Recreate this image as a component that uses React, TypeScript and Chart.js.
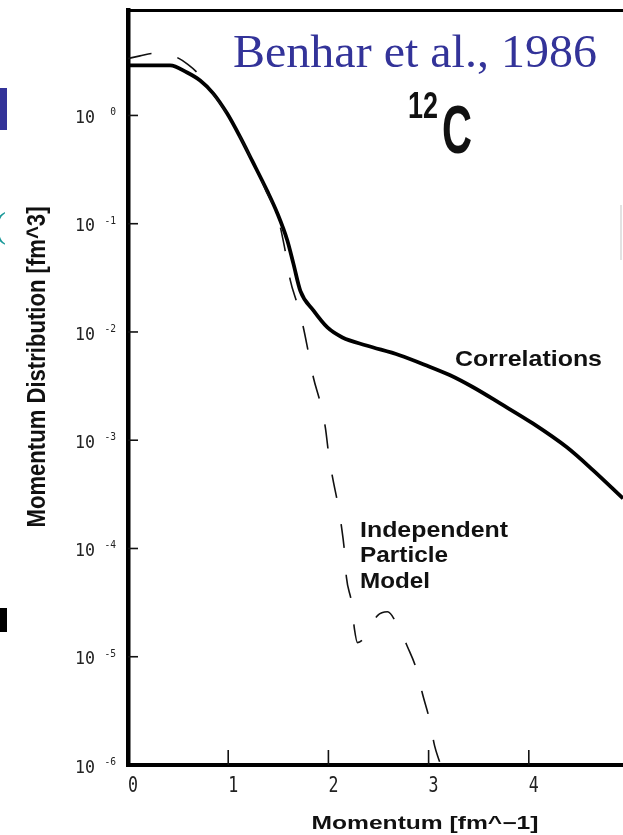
import React, { useEffect, useRef } from 'react';
import { Chart, registerables } from 'chart.js';

Chart.register(...registerables);

// ---- data ----
const corrMomentum = [0, 0.42, 0.59, 0.72, 0.85, 0.99, 1.12, 1.24, 1.39, 1.49, 1.59, 1.65, 1.72, 1.85, 1.99, 2.14, 2.38, 2.71, 2.98, 3.21, 3.44, 3.71, 4.04, 4.38, 4.64, 4.94];
const corrDistribution = [2.9, 2.9, 2.49, 2.1, 1.6, 1.04, 0.63, 0.38, 0.2, 0.125, 0.07, 0.043, 0.024, 0.0158, 0.011, 0.0089, 0.0075, 0.0061, 0.0049, 0.004, 0.0031, 0.0022, 0.00143, 0.00086, 0.00053, 0.00029];

const ipmMomentum = [0, 0.12, 0.24, 0.36, 0.49, 0.6, 0.69, 0.85, 0.99, 1.12, 1.24, 1.38, 1.5, 1.56, 1.62, 1.69, 1.75, 1.8, 1.85, 1.92, 1.97, 2.0, 2.04, 2.09, 2.13, 2.16, 2.18, 2.23, 2.26, 2.29, 2.36, 2.49, 2.59, 2.69, 2.79, 2.88, 2.94, 3.01, 3.06, 3.11];
const ipmDistribution = [3.36, 3.55, 3.73, 3.72, 3.43, 2.95, 2.49, 1.58, 1.03, 0.63, 0.38, 0.2, 0.11, 0.062, 0.03, 0.018, 0.011, 0.0065, 0.0038, 0.0022, 0.0013, 0.00078, 0.00046, 0.00027, 0.00016, 0.000095, 0.000054, 0.000032, 0.000018, 0.0000135, 0.000015, 0.000024, 0.000026, 0.0000195, 0.0000123, 0.0000076, 0.0000045, 0.0000026, 0.0000015, 0.00000107];

const xTickValues = [0, 1, 2, 3, 4];
const xTickLabels = ['0', '1', '2', '3', '4'];
const yTickValues = [1, 0.1, 0.01, 0.001, 0.0001, 0.00001, 0.000001];
const yTickExponents = ['0', '-1', '-2', '-3', '-4', '-5', '-6'];

const xMin = 0;
const xMax = 4.94;
const yMin = 0.000001;
const yMax = 9.42;

const W = 623;
const H = 835;

type FitOpts = {
  family: string;
  weight?: string;
  cap: number;
  capRatio: number;
  width?: number;
  align?: CanvasTextAlign;
  rotate?: boolean;
  color?: string;
};

function fitText(ctx: CanvasRenderingContext2D, text: string, x: number, y: number, o: FitOpts) {
  const size = o.cap / o.capRatio;
  ctx.save();
  ctx.font = `${o.weight || 'normal'} ${size}px ${o.family}`;
  const natural = ctx.measureText(text).width;
  const sx = o.width ? o.width / natural : 1;
  ctx.translate(x, y);
  if (o.rotate) ctx.rotate(-Math.PI / 2);
  ctx.scale(sx, 1);
  ctx.fillStyle = o.color || '#000';
  ctx.textAlign = o.align || 'left';
  ctx.textBaseline = 'alphabetic';
  ctx.fillText(text, 0, o.cap / 2);
  ctx.restore();
}

const SANS = '"Liberation Sans", Arial, sans-serif';
const MONO = '"DejaVu Sans Mono", monospace';
const SERIF = '"Liberation Serif", "Times New Roman", serif';

const overlayPlugin = {
  id: 'overlay',
  afterDraw(chart: any) {
    const { ctx, chartArea, scales } = chart;
    const xs = scales.x;
    const ys = scales.y;
    const left = chartArea.left;
    const bottom = chartArea.bottom;
    ctx.save();

    // inward tick marks
    ctx.strokeStyle = '#111';
    ctx.lineWidth = 1.6;
    xTickValues.forEach((v) => {
      if (v === xMin) return;
      const px = xs.getPixelForValue(v);
      ctx.beginPath();
      ctx.moveTo(px, bottom);
      ctx.lineTo(px, bottom - 15);
      ctx.stroke();
    });
    yTickValues.forEach((v) => {
      if (v === yMin) return;
      const py = ys.getPixelForValue(v);
      ctx.beginPath();
      ctx.moveTo(left, py);
      ctx.lineTo(left + 10, py);
      ctx.stroke();
    });

    // x tick labels
    xTickValues.forEach((v, i) => {
      const px = xs.getPixelForValue(v);
      fitText(ctx, xTickLabels[i], px + 5, 784, { family: MONO, cap: 15, capRatio: 0.729, width: 10, align: 'center', color: '#222' });
    });
    // y tick labels 10^n
    yTickValues.forEach((v, i) => {
      const py = ys.getPixelForValue(v);
      fitText(ctx, '10', 75, py + 1.5, { family: MONO, cap: 12.5, capRatio: 0.729, width: 20, align: 'left', color: '#222' });
      fitText(ctx, yTickExponents[i], 116, py - 3.5, { family: MONO, cap: 7, capRatio: 0.729, align: 'right', color: '#222' });
    });

    // axis titles
    fitText(ctx, 'Momentum [fm^\u22121]', 425, 822, { family: SANS, weight: 'bold', cap: 13, capRatio: 0.729, width: 227, align: 'center', color: '#111' });
    fitText(ctx, 'Momentum Distribution [fm^3]', 35, 367, { family: SANS, weight: 'bold', cap: 19, capRatio: 0.729, width: 321, align: 'center', rotate: true, color: '#111' });

    // curve annotations
    fitText(ctx, 'Correlations', 455, 358, { family: SANS, weight: 'bold', cap: 16, capRatio: 0.729, width: 147, color: '#111' });
    fitText(ctx, 'Independent', 360, 528.5, { family: SANS, weight: 'bold', cap: 16, capRatio: 0.729, width: 148, color: '#111' });
    fitText(ctx, 'Particle', 360, 554, { family: SANS, weight: 'bold', cap: 16, capRatio: 0.729, width: 88, color: '#111' });
    fitText(ctx, 'Model', 360, 580, { family: SANS, weight: 'bold', cap: 16, capRatio: 0.729, width: 70, color: '#111' });

    // nucleus label
    fitText(ctx, '12', 408, 104, { family: SANS, weight: 'bold', cap: 27, capRatio: 0.729, width: 30, color: '#111' });
    fitText(ctx, 'C', 442, 127.5, { family: SANS, weight: 'bold', cap: 50, capRatio: 0.729, width: 30, color: '#111' });

    // reference title
    fitText(ctx, 'Benhar et al., 1986', 233, 51, { family: SERIF, cap: 31, capRatio: 0.662, width: 364, color: '#333399' });

    // slide remnants at the edges
    ctx.fillStyle = '#333399';
    ctx.fillRect(0, 88, 7, 42);
    ctx.fillStyle = '#000';
    ctx.fillRect(0, 608, 7, 24);
    fitText(ctx, '(', -6, 225, { family: SERIF, cap: 24, capRatio: 0.662, color: '#199999' });
    ctx.strokeStyle = '#e2e2e2';
    ctx.lineWidth = 2;
    ctx.beginPath();
    ctx.moveTo(621, 205);
    ctx.lineTo(621, 260);
    ctx.stroke();

    ctx.restore();
  },
};

export default function App() {
  const canvasRef = useRef<HTMLCanvasElement | null>(null);

  useEffect(() => {
    const canvas = canvasRef.current;
    if (!canvas) return;
    const corrData = corrMomentum.map((q, i) => ({ x: q, y: corrDistribution[i] }));
    const ipmData = ipmMomentum.map((q, i) => ({ x: q, y: ipmDistribution[i] }));

    const chart = new Chart(canvas, {
      type: 'line',
      data: {
        datasets: [
          {
            label: 'Independent Particle Model',
            data: ipmData,
            borderColor: '#111',
            borderWidth: 1.6,
            borderDash: [24, 26.5],
            pointRadius: 0,
            fill: false,
            cubicInterpolationMode: 'monotone',
          },
          {
            label: 'Correlations',
            data: corrData,
            borderColor: '#000',
            borderWidth: 3.8,
            pointRadius: 0,
            fill: false,
            cubicInterpolationMode: 'monotone',
          },
        ],
      },
      options: {
        responsive: false,
        animation: false,
        devicePixelRatio: 1,
        layout: { padding: { left: 128, right: 0, top: 10, bottom: H - 765 } },
        plugins: { legend: { display: false }, tooltip: { enabled: false }, title: { display: false } },
        scales: {
          x: {
            type: 'linear',
            min: xMin,
            max: xMax,
            afterFit: (s: any) => { s.height = 0; },
            grid: { display: false },
            ticks: { display: false },
            border: { display: true, color: '#000', width: 4 },
          },
          xTop: {
            type: 'linear',
            position: 'top',
            min: xMin,
            max: xMax,
            afterFit: (s: any) => { s.height = 0; },
            grid: { display: false },
            ticks: { display: false },
            border: { display: true, color: '#000', width: 3 },
          },
          y: {
            type: 'logarithmic',
            min: yMin,
            max: yMax,
            afterFit: (s: any) => { s.width = 0; },
            grid: { display: false },
            ticks: { display: false },
            border: { display: true, color: '#000', width: 4.5 },
          },
        },
      } as any,
      plugins: [overlayPlugin],
    });
    return () => chart.destroy();
  }, []);

  return (
    <div style={{ position: 'absolute', left: 0, top: 0, width: W, height: H, background: '#fff' }}>
      <canvas ref={canvasRef} width={W} height={H} style={{ width: W, height: H, display: 'block' }} />
    </div>
  );
}
